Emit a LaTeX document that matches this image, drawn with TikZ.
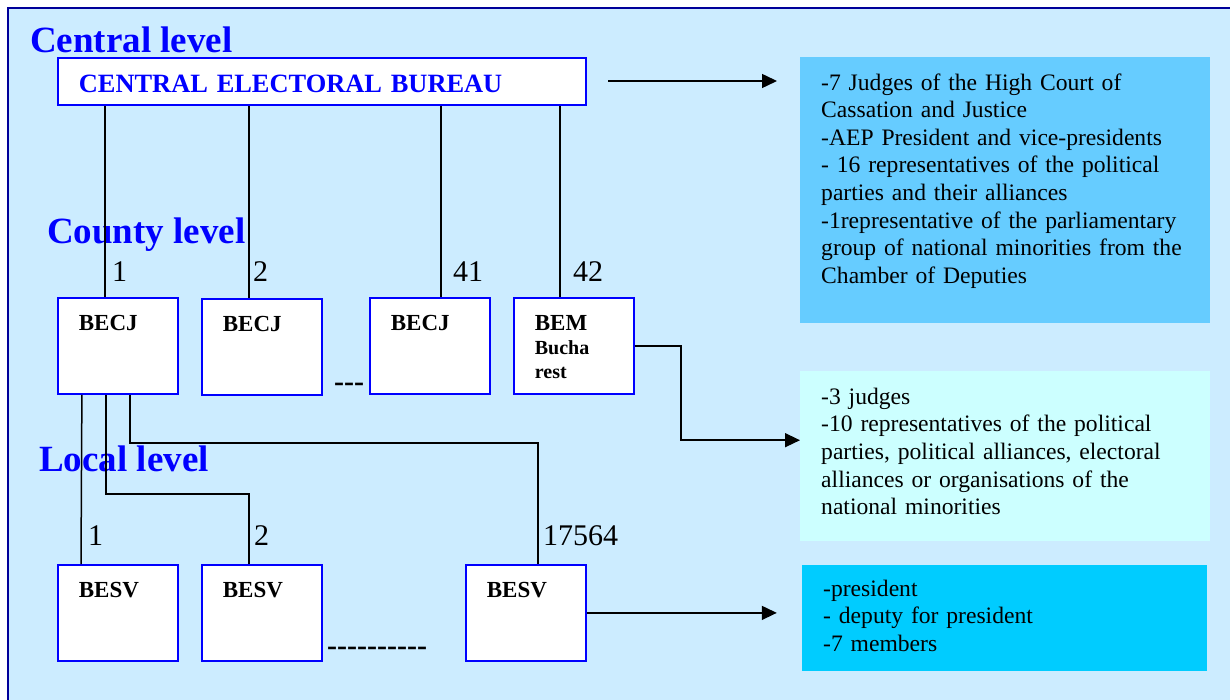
\documentclass[tikz,border=0pt]{standalone}
\usepackage{fontspec}
\setmainfont{Liberation Serif}
\usetikzlibrary{arrows.meta}
\definecolor{bgblue}{HTML}{CCECFF}
\definecolor{frameblue}{HTML}{000099}
\definecolor{infoA}{HTML}{66CCFF}
\definecolor{infoB}{HTML}{CCFFFF}
\definecolor{infoC}{HTML}{00CCFF}
\tikzset{levelname/.style={anchor=base west,inner sep=0pt,text=blue,
		font=\fontsize{37}{40}\selectfont\bfseries},
	bureau/.style={draw=blue,line width=1.8pt,fill=white,anchor=north west,
		inner ysep=0pt,inner xsep=21pt,align=left,text width=78pt,
		text height=33pt,text depth=63pt,font=\fontsize{23}{24}\selectfont\bfseries},
	infobox/.style={fill=#1,anchor=north west,inner ysep=0pt,inner xsep=21pt,
		align=left,font=\fontsize{23.6}{27.6}\selectfont},
	count/.style={anchor=base west,inner sep=0pt,font=\fontsize{30}{32}\selectfont},
	dots/.style={anchor=base west,inner sep=0pt,font=\fontsize{30}{32}\selectfont\bfseries},
	link/.style={draw,line width=1.5pt},
	arrow/.style={link,-{Triangle[length=15pt,width=14pt]}}}

\begin{document}
\begin{tikzpicture}[x=1pt,y=-1pt]
		\useasboundingbox (0,0) rectangle (1230,700);
		\draw[frameblue,line width=2pt,fill=bgblue] (8,8) rectangle (1245,715);
		% level titles
		\node[levelname] (central) at (30,53) {Central level};
		\node[levelname] (county) at (47,244) {County level};
		\node[levelname] (local) at (39,471) {Local level};
		% central bureau
		\node[bureau,text width=486pt,text height=35pt,text depth=12pt,text=blue,
			font=\fontsize{26.4}{28}\selectfont\bfseries] (ceb) at (57,57) {CENTRAL ELECTORAL BUREAU};
		% county bureaus
		\node[bureau] (becj1) at (57,297) {BECJ};
		\node[bureau] (becj2) at (201,298) {BECJ};
		\node[bureau] (becj41) at (369,297) {BECJ};
		\node[bureau] (bem) at (513,297) {BEM\\\fontsize{20}{24}\selectfont Bucha\\rest};
		% local bureaus
		\node[bureau] (besv1) at (57,564) {BESV};
		\node[bureau] (besv2) at (201,564) {BESV};
		\node[bureau] (besv3) at (465,564) {BESV};
		% members
		\node[infobox=infoA,text width=368pt,text height=33pt,text depth=233pt] (info1) at (800,57)
			{-7 Judges of the High Court of\\Cassation and Justice\\-AEP President and vice-presidents\\
			- 16 representatives of the political\\parties and their alliances\\
			-1representative of the parliamentary\\group of national minorities from the\\Chamber of Deputies};
		\node[infobox=infoB,text width=368pt,text height=33pt,text depth=137pt] (info2) at (800,371)
			{-3 judges\\-10 representatives of the political\\parties, political alliances, electoral\\
			alliances or organisations of the\\national minorities};
		\node[infobox=infoC,text width=363pt,text height=31pt,text depth=75pt] (info3) at (802,565)
			{-president\\- deputy for president\\-7 members};
		% numbering
		\node[count] (n1) at (112,282) {1};
		\node[count] (n2) at (253,282) {2};
		\node[count] (n41) at (453,282) {41};
		\node[count] (n42) at (573,282) {42};
		\node[count] (m1) at (88,545) {1};
		\node[count] (m2) at (254,545) {2};
		\node[count] (m17564) at (543,545) {17564};
		\node[dots] (gapA) at (334,391) {{-}{-}{-}};
		\node[dots] (gapB) at (327,655) {{-}{-}{-}{-}{-}{-}{-}{-}{-}{-}};
		% connection points
		\coordinate (c1) at (105,297);
		\coordinate (c2) at (249,298);
		\coordinate (c41) at (441,297);
		\coordinate (c42) at (560,297);
		\coordinate (cebout) at (608,81);
		\coordinate (info1in) at (777,81);
		\coordinate (info3in) at ([xshift=190pt]besv3.east);
		% links
		\path[link] (c1 |- ceb.south) -- (c1);
		\path[link] (c2 |- ceb.south) -- (c2);
		\path[link] (c41 |- ceb.south) -- (c41);
		\path[link] (c42 |- ceb.south) -- (c42);
		\path[link] ([xshift=-36pt]becj1.south) -- ([xshift=24pt]besv1.north west);
		\path[link] ([xshift=-12pt]becj1.south) -- ++(0,99) -| ([xshift=48pt]besv2.north west);
		\path[link] ([xshift=12pt]becj1.south) -- ++(0,48) -| ([xshift=73pt]besv3.north west);
		\path[arrow] (cebout) -- (info1in);
		\path[arrow] (bem.east) -- ++(46,0) |- ([yshift=16pt]info2.west);
		\path[arrow] (besv3.east) -- (info3in);
	\end{tikzpicture}
\end{document}
